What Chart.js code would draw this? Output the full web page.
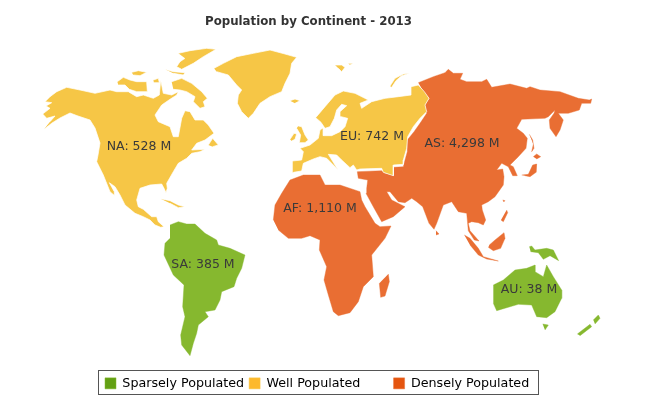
<!DOCTYPE html>
<html><head><meta charset="utf-8">
<style>html,body{margin:0;padding:0;background:#fff}canvas{display:block}</style>
<script src="https://cdn.jsdelivr.net/npm/chart.js@4/dist/chart.umd.min.js"></script>
</head><body><div style="width:664px;height:419px"><canvas id="c"></canvas></div>
<script>
// Legend and category data
const classNames = ['Sparsely Populated', 'Well Populated', 'Densely Populated'];
const classFills = ['#86B82F', '#F6C646', '#E96E33'];
const classSwatches = ['#63A013', '#FDB92C', '#E5550F'];
const classEdges = ['#86B82F', '#ffffff', '#E96E33'];
const continents = ['NA', 'EU', 'AS', 'AF', 'SA', 'AU'];
const populations = [528, 742, 4298, 1110, 385, 38];
const labelLon = [139, 372, 462, 320, 203, 529];
const labelLat = [147, 137, 144, 209, 265, 290];

// Outlines. Map units: [origin, shapes, divisor]
const originBase = [0, 0], originNA = [30, 40], originNE = [270, 60], originAF = [260, 170], originSA = [90, 210];
const originEU = [285, 85], originSE = [355, 160], originJP = [480, 85];
const naMain = [44,129.3,52,123,60,118,70,113,78,116,90,120,95,128,100,143,98,155,96.7,161.7,103.3,175,106,181.7,110,191.7,115,196,114.3,191.7,109.3,182.7,115,186.7,120,195,125,205,135,213.3,143.3,216.7,150,220,155,225,160.7,227.3,164,226.7,158.3,221.7,156.7,216.7,151.7,216.7,143.3,209.3,138.3,206.7,136.7,200,140,188.3,150,185,161.7,184,164,188.3,166,192.7,167.3,188.3,166.7,183.3,173.3,171.7,178.3,163.3,186.7,158.3,191.7,153.3,200,151.7,205,149.3,191.7,150,196.7,143.3,205,140,214,133.3,208.3,125,203.3,120,195,120,190,111.7,185,110.7,181.7,118.3,178.3,136.7,173.3,136.7,170,126.7,158.3,121.7,155,115,161.7,105,170,99.3,176.7,95,178.3,91.7,171.7,95,163.3,93.3,160.7,80,159.3,95,153.3,98.3,143.3,95,136.7,96.7,128.3,91.7,116.7,91.7,110,90,95,93.3,80,90,66.7,87.3,56.7,91.7,50,96.7,45,101.7,51.7,102.7,46,106,50,108.3,42.7,114,46.7,118.3,55,116,50,121.7];
const ellesmere = [445,40,480,32,530,25,558,28,520,50,490,70,455,88,440,80,450,65,465,55];
const banks = [405,88,430,95,465,98,460,105,430,100];
const melville = [305,97,325,92,350,97,330,107,310,105];
const victoria = [262,125,280,112,300,120,320,125,350,125,352,155,320,155,298,148,285,135,265,135];
const somerset = [370,120,385,115,388,128,372,128];
const baffin = [425,125,455,115,485,130,515,155,532,175,520,185,525,200,510,205,490,185,495,170,470,155,450,150,430,148];
const newfoundland = [535,315,548,295,565,315,548,320];
const cuba = [392,476,420,482,445,495,465,500,445,503,420,490];
const greenland = [552,85,580,70,620,50,670,40,720,30,765,42,800,52,785,70,780,100,765,130,755,155,720,170,690,190,670,220,655,235,635,215,622,190,625,165,635,150,620,135,595,105,560,95];
const europeMain = [22,262,22,228,50,225,55,200,45,190,75,180,100,160,105,135,115,128,115,152,140,152,165,140,180,125,188,100,168,95,165,80,185,62,170,58,155,75,148,100,135,125,120,130,108,112,92,98,120,65,150,30,175,18,210,25,250,45,225,55,230,70,260,50,300,40,340,35,378,30,378,5,400,0,418,20,432,40,420,60,425,80,405,100,385,125,368,155,365,190,355,225,355,238,325,240,325,272,295,262,290,250,225,252,215,255,205,240,195,248,170,225,155,210,130,208,155,248,160,255,140,235,125,220,105,215,85,222,55,235,50,258,25,262];
const iceland = [60,122,75,117,90,122,75,130];
const ireland = [60,238,72,220,80,222,75,238,65,243];
const britain = [85,198,95,200,105,225,115,240,105,248,88,248,92,225,80,205];
const svalbard = [195,15,215,15,225,22,215,35,205,25];
const franzJosef = [235,10,250,10,240,15];
const novayaZemlya = [360,78,375,55,400,42,420,40,395,47,378,62,365,82];
const asiaMain = [418.3,82.7,433.3,76.7,445,72.7,448.3,69.3,453.3,73.3,462.7,73.3,460,79.3,466.7,81.7,481.7,81.7,486.7,79.3,491.7,87.3,510,84,526.7,88.3,530,86.7,540,90,560,91.7,578.3,98.3,589.3,100,591.7,99,590.7,103.3,581.7,103.3,579.3,110,568.3,113.3,558.3,113.3,563.3,120,560,130,556,136.7,550,128.3,549.3,120,554,113.3,555,110,548.3,116.7,545,118.3,521.7,119.3,516.7,128.3,523.3,133.3,527.3,138.3,526,148.3,518.3,156.7,510,165,513.3,166.7,517.3,175.7,512.7,175.7,508.3,166.7,501.7,163.3,496.7,170,502.7,169,504,176.7,503.3,185,495,196.7,488.3,201.7,481.7,205,482.3,210,485.7,220,483.3,225,478.3,222.7,471.7,221.7,468.3,223.3,470,230.7,479,241,474.3,240,468.3,230.7,466.7,213.3,458.3,211.7,451.7,201.7,443.3,205,436.7,223.3,434,229.3,429,223.3,422.7,206.7,416.7,201.7,411.7,198.3,405,202.7,398.3,201.7,390,191.7,386.7,191.7,391.7,200,405,206.7,393.3,216.7,383.3,221,381.7,221.7,373.3,206.7,366,193.3,366.7,188.3,367.7,180,358.3,178.3,357.3,171.7,381.7,170.7,385,173.3,394,175.7,394,167.3,403.3,166.7,405,160,407.3,151.7,407.3,140,414,131.7,420,123.3,426.7,113.3,425,105,429.3,98.3,424,92.7];
const sriLanka = [243,212,252,222,243,225];
const honshu = [125,270,145,268,158,240,170,237,168,262,150,275,135,272];
const hokkaido = [160,215,170,207,182,215,170,222];
const sakhalin = [148,148,158,165,162,190,155,200,160,178];
const sumatra = [328,225,345,235,370,265,385,290,430,303,395,297,370,285,345,255];
const borneo = [403,255,420,240,447,218,450,235,437,265,415,272,400,262];
const luzon = [455,150,458,158,445,185,438,180];
const formosa = [443,120,450,122,446,126];
const africaMain = [40,150,45,105,65,70,90,30,130,15,180,15,195,45,240,45,300,65,305,90,315,110,345,160,360,170,393,168,375,205,335,255,340,320,310,350,295,395,270,428,235,437,220,425,205,375,192,330,200,290,178,240,180,210,150,197,125,205,85,205,55,180];
const madagascar = [385,312,388,335,375,378,362,382,358,340];
const australia = [700,345,730,330,765,300,800,295,825,285,825,305,850,320,860,285,880,320,905,360,905,385,885,425,860,443,830,440,815,405,775,403,710,422,700,400];
const newGuinea = [808,230,815,228,825,240,860,235,880,240,896,272,870,257,850,268,835,248,812,245];
const tasmania = [848,462,865,465,855,480];
const nzSouth = [952,492,990,463,995,470,960,497];
const nzNorth = [1000,450,1015,435,1020,445,1005,462];
const saMain = [240,45,265,35,290,42,315,42,345,70,380,90,385,105,420,115,465,135,455,175,440,205,432,230,395,245,390,270,375,300,345,305,355,320,325,345,320,370,310,400,300,437,275,405,272,375,285,320,278,290,282,225,250,195,222,135,225,100,240,85];

function outline(groups) {
  const pts = [];
  for (const [origin, shapes, div] of groups) {
    for (const s of shapes) {
      for (let i = 0; i < s.length; i += 2) pts.push({x: origin[0] + s[i] / div, y: origin[1] + s[i + 1] / div});
      pts.push({x: NaN, y: NaN});
    }
  }
  return pts;
}
const sparse = outline([[originSA, [saMain], 3], [originAF, [australia, newGuinea, tasmania, nzSouth, nzNorth], 3]]);
const well = outline([[originBase, [naMain], 1], [originNA, [ellesmere, banks, melville, victoria, somerset, baffin, newfoundland, cuba, greenland], 3], [originEU, [europeMain], 3], [originNE, [iceland, ireland, britain, svalbard, franzJosef, novayaZemlya], 3]]);
const dense = outline([[originBase, [asiaMain], 1], [originSE, [sriLanka, sumatra, borneo, luzon, formosa], 3], [originJP, [honshu, hokkaido, sakhalin], 3], [originAF, [africaMain, madagascar], 3]]);
const classData = [sparse, well, dense];

const chartTop = 30, chartBottom = 391.3;

const mapDecor = {
  id: 'mapDecor',
  afterLayout(chart) {
    const t = chart.titleBlock, l = chart.legend;
    t.left = 205; t.right = 412;
    l.left = 100; l.top = 372;
  },
  afterDraw(chart) {
    const c = chart.ctx, xs = chart.scales.x, ys = chart.scales.y;
    c.save();
    c.font = '12.5px "DejaVu Sans"';
    c.fillStyle = '#3a3a3a';
    c.textAlign = 'center';
    c.textBaseline = 'middle';
    continents.forEach((n, i) => {
      c.fillText(n + ': ' + populations[i].toLocaleString('en-US') + ' M', xs.getPixelForValue(labelLon[i]), ys.getPixelForValue(labelLat[i]));
    });
    c.restore();
  },
  beforeDraw(chart) {
    const c = chart.ctx;
    c.save();
    c.strokeStyle = '#555';
    c.lineWidth = 1;
    c.strokeRect(98.5, 370.5, 440, 24);
    c.restore();
  }
};

new Chart(document.getElementById('c'), {
  type: 'scatter',
  data: {
    datasets: classNames.map((name, i) => ({
      label: name,
      data: classData[i],
      showLine: true,
      fill: 'shape',
      backgroundColor: classFills[i],
      borderColor: classEdges[i],
      borderWidth: i === 1 ? 0.7 : 0.4,
      pointRadius: 0,
      pointHoverRadius: 0,
      clip: false
    }))
  },
  options: {
    responsive: true,
    maintainAspectRatio: false,
    animation: false,
    layout: {padding: 0},
    events: [],
    scales: {
      x: {type: 'linear', display: false, min: 0, max: 664},
      y: {type: 'linear', display: false, min: chartTop, max: chartBottom, reverse: true}
    },
    plugins: {
      tooltip: {enabled: false},
      title: {
        display: true,
        text: 'Population by Continent - 2013',
        align: 'start',
        color: '#333333',
        font: {family: '"DejaVu Sans"', size: 13, weight: 'bold', lineHeight: 1.2},
        padding: {top: 14, bottom: 0.4}
      },
      legend: {
        display: true,
        position: 'bottom',
        align: 'start',
        labels: {
          boxWidth: 11,
          boxHeight: 11,
          padding: 5,
          color: '#444444',
          font: {family: '"DejaVu Sans"', size: 12.7},
          generateLabels: () => classNames.map((n, i) => ({
            text: i === 1 ? n + '       ' : n,
            fillStyle: classSwatches[i],
            strokeStyle: classFills[i],
            lineWidth: 0.5,
            datasetIndex: i
          }))
        }
      }
    }
  },
  plugins: [mapDecor]
});
</script></body></html>
